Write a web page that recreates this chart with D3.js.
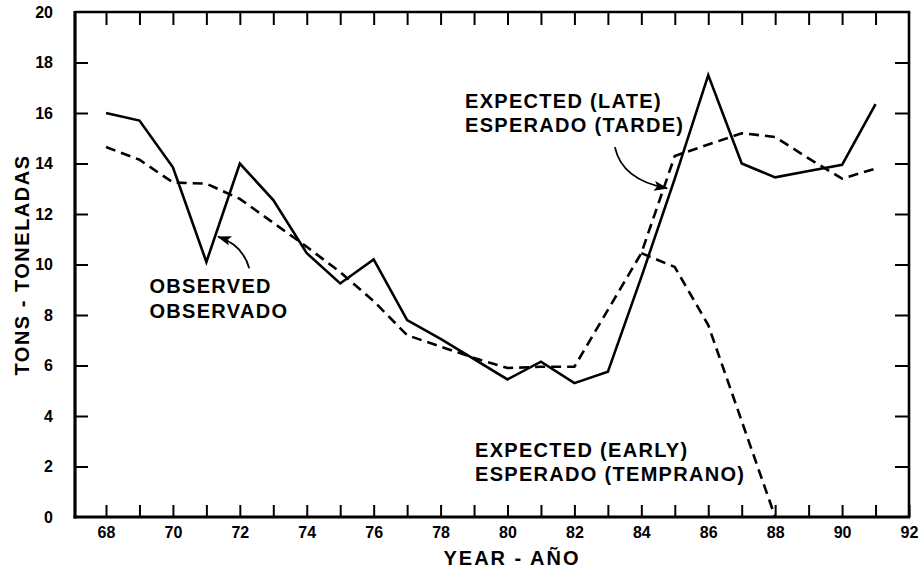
<!DOCTYPE html>
<html>
<head>
<meta charset="utf-8">
<script src="https://cdn.jsdelivr.net/npm/d3@7"></script>
<style>
  html, body { margin: 0; padding: 0; background: #fff; }
  svg { display: block; }
  text { font-family: "Liberation Sans", Arial, Helvetica, sans-serif; font-weight: bold; fill: #000; }
</style>
</head>
<body>
<svg id="chart" width="920" height="571"></svg>
<script>
// ---- data ----
const years = d3.range(68, 92); // 68..91
const observed = [16.0, 15.7, 13.85, 10.1, 14.0, 12.55, 10.45, 9.25, 10.2, 7.8, 7.05, 6.25,
                  5.45, 6.15, 5.3, 5.75, 9.5, 13.4, 17.5, 14.0, 13.45, 13.7, 13.95, 16.35];
const expectedYears = d3.range(68, 85); // 68..84
const expected = [14.65, 14.15, 13.25, 13.2, 12.6, 11.65, 10.7, 9.7, 8.55, 7.2, 6.75, 6.3,
                  5.9, 5.95, 5.95, 8.2, 10.45];
const lateYears = d3.range(84, 92); // 84..91
const expectedLate = [10.45, 14.3, 14.75, 15.2, 15.05, 14.2, 13.4, 13.8];
const earlyYears = d3.range(84, 89); // 84..88
const expectedEarly = [10.45, 9.9, 7.6, 3.8, 0.0];

const yTicks = d3.range(0, 21, 2);
const xMinorTicks = d3.range(68, 92);

const xTitle = "YEAR - AÑO";
const yTitle = "TONS - TONELADAS";

// annotations (data space)
const notes = [
  { lines: ["OBSERVED", "OBSERVADO"], at: [69.3, 8.87] },
  { lines: ["EXPECTED (LATE)", "ESPERADO (TARDE)"], at: [78.73, 16.2] },
  { lines: ["EXPECTED (EARLY)", "ESPERADO (TEMPRANO)"], at: [79.03, 2.38] }
];
const arrows = [
  { from: [72.28, 9.85], ctrl: [72.09, 10.77], to: [71.35, 11.1] },
  { from: [83.21, 14.65], ctrl: [83.42, 13.35], to: [84.77, 13.02] }
];

// ---- layout ----
const svg = d3.select("#chart");
const mLeft = 75, mRight = 909, mTop = 12, mBottom = 517;
const x = d3.scaleLinear().domain([68, 92]).range([106, 909]);
const y = d3.scaleLinear().domain([0, 20]).range([mBottom, mTop]);

// defs: arrowhead
svg.append("defs").append("marker")
  .attr("id", "ah").attr("markerUnits", "userSpaceOnUse")
  .attr("viewBox", "0 0 14 10").attr("refX", 13).attr("refY", 5)
  .attr("markerWidth", 14).attr("markerHeight", 10).attr("orient", "auto")
  .append("path").attr("d", "M0,0 L14,5 L0,10 L3,5 Z").attr("fill", "#000");

// axes (ticks inward)
const gB = svg.append("g").attr("transform", `translate(0,${mBottom})`)
  .call(d3.axisBottom(x).tickValues(xMinorTicks.concat([92])).tickSizeInner(-12).tickSizeOuter(0)
    .tickPadding(10).tickFormat(d => (d % 2 === 0 ? d : "")));
const gT = svg.append("g").attr("transform", `translate(0,${mTop})`)
  .call(d3.axisTop(x).tickValues(xMinorTicks).tickSizeInner(-13).tickSizeOuter(0).tickFormat(""));
const gL = svg.append("g").attr("transform", `translate(${mLeft},0)`)
  .call(d3.axisLeft(y).tickValues(yTicks.slice(1, -1)).tickSizeInner(-13).tickSizeOuter(0).tickPadding(22));
const gL2 = svg.append("g").attr("transform", `translate(${mLeft},0)`)
  .call(d3.axisLeft(y).tickValues([0, 20]).tickSizeInner(0).tickSizeOuter(0).tickPadding(22));
const gR = svg.append("g").attr("transform", `translate(${mRight},0)`)
  .call(d3.axisRight(y).tickValues(yTicks.slice(1, -1)).tickSizeInner(-14).tickSizeOuter(0).tickFormat(""));

[gB, gT, gL, gL2, gR].forEach(g => {
  g.select(".domain").remove();
  g.selectAll(".tick line").attr("stroke", "#000").attr("stroke-width", 2);
  g.selectAll("text").attr("font-size", 16).attr("font-weight", "bold")
    .attr("font-family", '"Liberation Sans", Arial, sans-serif').attr("fill", "#000");
});
gL2.selectAll(".tick line").remove();

// frame
svg.append("line").attr("x1", mLeft).attr("x2", mLeft).attr("y1", mTop - 1).attr("y2", mBottom + 1.5)
  .attr("stroke", "#000").attr("stroke-width", 3.2);
svg.append("line").attr("x1", mLeft - 1.5).attr("x2", mRight + 1.2).attr("y1", mBottom).attr("y2", mBottom)
  .attr("stroke", "#000").attr("stroke-width", 3);
svg.append("line").attr("x1", mLeft).attr("x2", mRight + 1.2).attr("y1", mTop).attr("y2", mTop)
  .attr("stroke", "#000").attr("stroke-width", 2.4);
svg.append("line").attr("x1", mRight).attr("x2", mRight).attr("y1", mTop).attr("y2", mBottom)
  .attr("stroke", "#000").attr("stroke-width", 2.6);

// lines
const line = d3.line().x(d => x(d[0])).y(d => y(d[1]));
const zip = (a, b) => a.map((v, i) => [v, b[i]]);

svg.append("path").datum(zip(years, observed)).attr("d", line)
  .attr("fill", "none").attr("stroke", "#000").attr("stroke-width", 2.6).attr("stroke-linejoin", "miter");
[zip(expectedYears, expected).concat(zip(lateYears, expectedLate).slice(1)),
 zip(earlyYears, expectedEarly)].forEach(pts => {
  svg.append("path").datum(pts).attr("d", line)
    .attr("fill", "none").attr("stroke", "#000").attr("stroke-width", 2.6)
    .attr("stroke-dasharray", "10,6");
});

// arrows
arrows.forEach(a => {
  const p = d3.path();
  p.moveTo(x(a.from[0]), y(a.from[1]));
  p.quadraticCurveTo(x(a.ctrl[0]), y(a.ctrl[1]), x(a.to[0]), y(a.to[1]));
  svg.append("path").attr("d", p.toString()).attr("fill", "none")
    .attr("stroke", "#000").attr("stroke-width", 1.8).attr("marker-end", "url(#ah)");
});

// annotation text
notes.forEach(n => {
  const t = svg.append("text").attr("x", x(n.at[0])).attr("y", y(n.at[1]))
    .attr("font-size", 20).attr("letter-spacing", 1.3);
  n.lines.forEach((s, i) => t.append("tspan").attr("x", x(n.at[0])).attr("dy", i ? 24.5 : 0).text(s));
});

// axis titles
svg.append("text").attr("x", 512).attr("y", 565).attr("text-anchor", "middle")
  .attr("font-size", 20).attr("letter-spacing", 2).text(xTitle);
svg.append("text").attr("transform", "translate(29,265) rotate(-90)").attr("text-anchor", "middle")
  .attr("font-size", 20).attr("letter-spacing", 1.5).text(yTitle);
</script>
</body>
</html>
